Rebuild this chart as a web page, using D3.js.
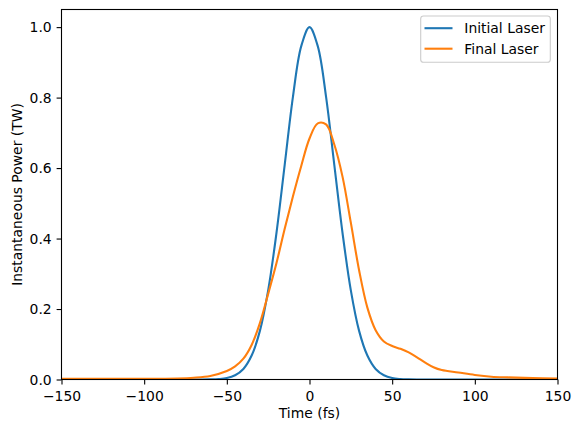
<!DOCTYPE html>
<html>
<head>
<meta charset="utf-8">
<script src="https://cdn.jsdelivr.net/npm/d3@7"></script>
<style>
  body { margin: 0; background: #fff; }
  svg text { font-family: "DejaVu Sans", sans-serif; fill: #000; }
</style>
</head>
<body>
<div id="chart"></div>
<script>
// Sample times (fs) and powers (TW)
const initialTime = [-150, -100, -80, -70, -65, -60, -55, -50, -45, -40, -35, -30, -25, -20, -15, -10, -5, 0,
  5, 10, 15, 20, 25, 30, 35, 40, 45, 50, 55, 60, 65, 70, 80, 100, 150];
const initialPower = [0, 0, 0, 0, 0, 0.0004, 0.0013, 0.004, 0.012, 0.030, 0.068, 0.138, 0.253, 0.415, 0.609, 0.803, 0.946, 1.0,
  0.946, 0.803, 0.609, 0.415, 0.253, 0.138, 0.068, 0.030, 0.012, 0.004, 0.0013, 0.0004, 0, 0, 0, 0, 0];

const finalTime = [-150, -100, -80, -70, -60, -50, -45, -40, -35, -30, -25, -20, -15, -10, -5, 0, 5, 10,
  15, 20, 25, 30, 35, 40, 45, 50, 55, 60, 65, 70, 75, 80, 90, 100, 110, 120, 135, 150];
const finalPower = [0.002, 0.002, 0.003, 0.005, 0.010, 0.024, 0.037, 0.059, 0.098, 0.160, 0.243, 0.330, 0.428, 0.520, 0.606, 0.684, 0.727, 0.724,
  0.667, 0.575, 0.445, 0.310, 0.204, 0.140, 0.108, 0.095, 0.087, 0.077, 0.063, 0.048, 0.035, 0.027, 0.020, 0.013, 0.008, 0.006, 0.004, 0.003];

const xTicks = [-150, -100, -50, 0, 50, 100, 150];
const yTicks = [0.0, 0.2, 0.4, 0.6, 0.8, 1.0];
const seriesNames = ['Initial Laser', 'Final Laser'];
const seriesColors = ['#1f77b4', '#ff7f0e'];

const width = 580;
const height = 432;
const margin = { left: 61.5, right: 22.5, top: 9.5, bottom: 52.5 };
const fontSize = 13.9;

const svg = d3.select('#chart')
  .append('svg')
  .attr('width', width)
  .attr('height', height);

const x = d3.scaleLinear()
  .domain([-150, 150])
  .range([margin.left, width - margin.right]);
const y = d3.scaleLinear()
  .domain([0, 1.05])
  .range([height - margin.bottom, margin.top]);

const minus = (v) => String(v).replace('-', '\u2212');

// clip lines to the plot area
svg.append('clipPath')
  .attr('id', 'plot-clip')
  .append('rect')
  .attr('x', margin.left)
  .attr('y', margin.top)
  .attr('width', width - margin.left - margin.right)
  .attr('height', height - margin.top - margin.bottom);

const series = [
  { t: initialTime, p: initialPower },
  { t: finalTime, p: finalPower },
];

const line = d3.line()
  .x((d) => x(d[0]))
  .y((d) => y(d[1]))
  .curve(d3.curveCatmullRom.alpha(0.5));

svg.append('g')
  .attr('clip-path', 'url(#plot-clip)')
  .selectAll('path')
  .data(series)
  .enter()
  .append('path')
  .attr('d', (s) => line(d3.zip(s.t, s.p)))
  .attr('fill', 'none')
  .attr('stroke', (s, i) => seriesColors[i])
  .attr('stroke-width', 2.1)
  .attr('stroke-linejoin', 'round')
  .attr('stroke-linecap', 'square');

// axes
const xAxis = svg.append('g')
  .attr('transform', `translate(0,${height - margin.bottom})`)
  .call(d3.axisBottom(x).tickValues(xTicks).tickSize(4.9).tickPadding(4.9).tickFormat(minus));
const yAxis = svg.append('g')
  .attr('transform', `translate(${margin.left},0)`)
  .call(d3.axisLeft(y).tickValues(yTicks).tickSize(4.9).tickPadding(4.9).tickFormat(d3.format('.1f')));

[xAxis, yAxis].forEach((ax) => {
  ax.select('.domain').remove();
  ax.selectAll('line').attr('stroke', '#000').attr('stroke-width', 1.1);
  ax.selectAll('text')
    .attr('font-size', `${fontSize}px`)
    .attr('font-family', '"DejaVu Sans", sans-serif')
    .attr('fill', '#000');
});
xAxis.selectAll('text').attr('dy', null).attr('y', 21);
yAxis.selectAll('text').attr('dy', '0.35em');

// frame
svg.append('rect')
  .attr('x', margin.left)
  .attr('y', margin.top)
  .attr('width', width - margin.left - margin.right)
  .attr('height', height - margin.top - margin.bottom)
  .attr('fill', 'none')
  .attr('stroke', '#000')
  .attr('stroke-width', 1.1);

// axis labels
svg.append('text')
  .attr('x', (margin.left + width - margin.right) / 2)
  .attr('y', 418)
  .attr('text-anchor', 'middle')
  .attr('font-size', `${fontSize}px`)
  .text('Time (fs)');

svg.append('text')
  .attr('transform', `translate(21.5,${(margin.top + height - margin.bottom) / 2}) rotate(-90)`)
  .attr('text-anchor', 'middle')
  .attr('font-size', `${fontSize}px`)
  .text('Instantaneous Power (TW)');

// legend
const legend = svg.append('g').attr('id', 'legend');
legend.append('rect')
  .attr('x', 420.7)
  .attr('y', 16)
  .attr('width', 129.6)
  .attr('height', 46.2)
  .attr('rx', 2.8)
  .attr('fill', 'rgba(255,255,255,0.8)')
  .attr('stroke', '#cccccc')
  .attr('stroke-width', 1.1);

legend.selectAll('line')
  .data(seriesNames)
  .enter()
  .append('line')
  .attr('x1', 424.5)
  .attr('x2', 452.5)
  .attr('y1', (d, i) => 28.2 + i * 20.5)
  .attr('y2', (d, i) => 28.2 + i * 20.5)
  .attr('stroke', (d, i) => seriesColors[i])
  .attr('stroke-width', 2.1);

legend.selectAll('text')
  .data(seriesNames)
  .enter()
  .append('text')
  .attr('x', 464.3)
  .attr('y', (d, i) => 33.3 + i * 20.5)
  .attr('font-size', `${fontSize}px`)
  .text((d) => d);
</script>
</body>
</html>
